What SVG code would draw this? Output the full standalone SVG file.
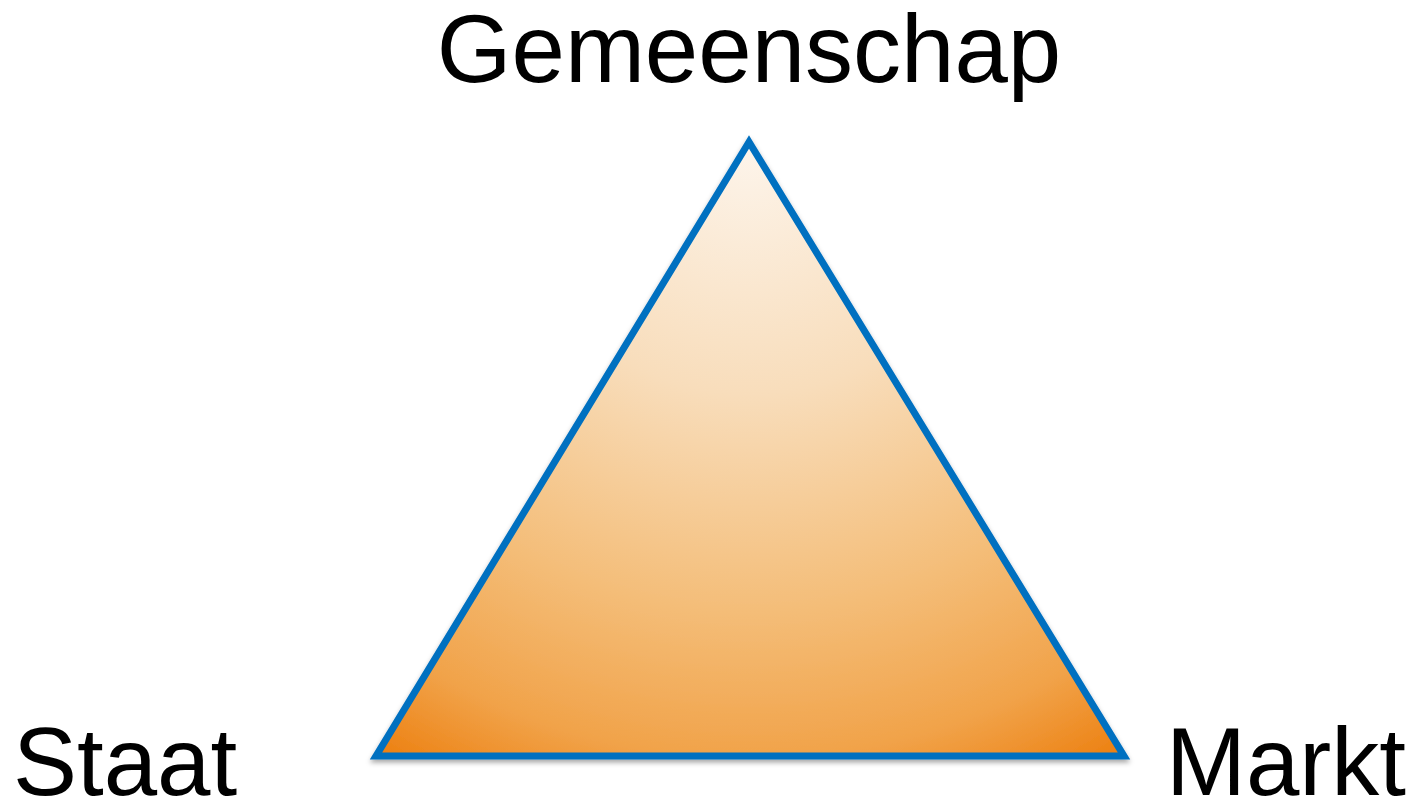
<svg xmlns="http://www.w3.org/2000/svg" width="1408" height="796" viewBox="0 0 1408 796">
<style>
.lbl{font-family:"Liberation Sans",Arial,sans-serif;font-size:96px;fill:#000}
</style>
<defs>
<radialGradient id="g" gradientUnits="userSpaceOnUse" cx="749" cy="140" r="725">
<stop offset="0" stop-color="#FDF5EC"/>
<stop offset="0.35" stop-color="#F8DDBB"/>
<stop offset="0.65" stop-color="#F4BD78"/>
<stop offset="0.85" stop-color="#F1A34A"/>
<stop offset="1" stop-color="#EC7D0C"/>
</radialGradient>
<filter id="sh" x="-10%" y="-10%" width="120%" height="120%">
<feDropShadow dx="0" dy="3" stdDeviation="2.5" flood-color="#000" flood-opacity="0.35"/>
</filter>
</defs>
<rect width="1408" height="796" fill="#fff"/>
<g id="triangle">
<polygon points="749,142 376,756 1124,756" fill="url(#g)" stroke="#0070C0" stroke-width="7" stroke-linejoin="miter" filter="url(#sh)"/>
</g>
<g id="gemeenschap"><text class="lbl" x="749" y="82" text-anchor="middle">Gemeenschap</text></g>
<g id="staat"><text class="lbl" x="13" y="795">Staat</text></g>
<g id="markt"><text class="lbl" x="1166" y="795">Markt</text></g>
</svg>
